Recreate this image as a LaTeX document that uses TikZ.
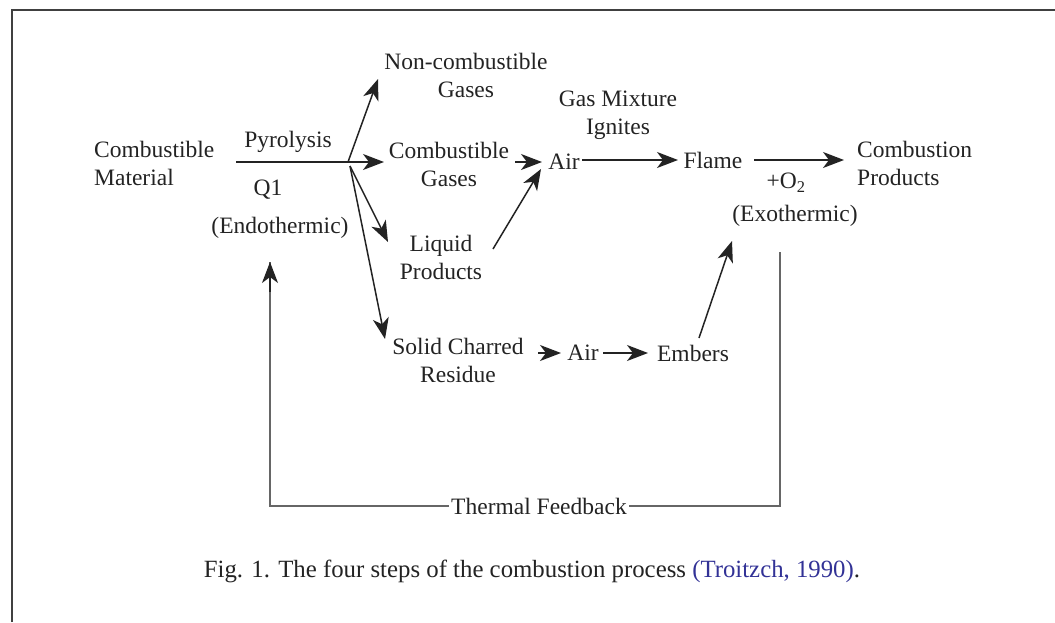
\documentclass[tikz,border=0pt]{standalone}
\usepackage{fontspec}
\setmainfont{Liberation Serif}
\usetikzlibrary{arrows.meta}
\definecolor{citeblue}{RGB}{50,50,150}
\definecolor{ink}{RGB}{35,35,35}
\begin{document}
\begin{tikzpicture}[x=1pt,y=-1pt,
  lbl/.style={font=\fontsize{23.5}{28}\selectfont, align=center, inner sep=1pt, text=ink},
  arr/.style={-{Stealth[length=21pt,width=16pt,inset=6pt]}, line width=1.5pt, draw=ink},
  ln/.style={line width=1.5pt, draw=ink},
  fb/.style={line width=1.2pt, draw=black!60}]
\useasboundingbox (0,0) rectangle (1055,622);
\draw[line width=2pt, black!75] (12,622) -- (12,10) -- (1055,10);

% nodes
\node[lbl, align=left, anchor=west] (cm) at (93,163) {Combustible\\Material};
\node[lbl] (pyro) at (288,142) {Pyrolysis};
\node[lbl] (q1) at (268,190) {Q1};
\node[lbl] (endo) at (280,228) {(Endothermic)};
\node[lbl] (ncg) at (466,75) {Non-combustible\\Gases};
\node[lbl] (cg) at (449,164) {Combustible\\Gases};
\node[lbl] (lp) at (441,257) {Liquid\\Products};
\node[lbl] (scr) at (458,360) {Solid Charred\\Residue};
\node[lbl] (air1) at (564,162) {Air};
\node[lbl] (gmi) at (618,115) {Gas Mixture\\Ignites};
\node[lbl] (flame) at (713,160) {Flame};
\node[lbl, align=left, anchor=west] (cp) at (856,163) {Combustion\\Products};
\node[lbl] (o2) at (786,183) {+O\textsubscript{2}};
\node[lbl] (exo) at (795,216) {(Exothermic)};
\node[lbl] (air2) at (583,353) {Air};
\node[lbl] (emb) at (693,353) {Embers};
\node[lbl, inner sep=2pt] (tf) at (539,506) {Thermal Feedback};
\node[lbl, font=\fontsize{24.8}{30}\selectfont] (cap) at (532,571) {Fig. 1. The four steps of the combustion process \textcolor{citeblue}{(Troitzch, 1990)}.};

% coordinates
\coordinate (ps) at (236,162);
\coordinate (B) at (348,162);
\coordinate (B2) at (350,166);
\coordinate (ncgIn) at (378,79);
\coordinate (cgIn) at (384,162);
\coordinate (lpIn) at (388,242);
\coordinate (scrIn) at (385,339);
\coordinate (cgOut) at (515,162);
\coordinate (air1In) at (542,162);
\coordinate (lpOut) at (493,249);
\coordinate (air1InB) at (541,169);
\coordinate (air1Out) at (582,160);
\coordinate (flameIn) at (678,160);
\coordinate (flameOut) at (754,160);
\coordinate (cpIn) at (844,160);
\coordinate (scrOut) at (538,353);
\coordinate (air2In) at (561,353);
\coordinate (air2Out) at (603,353);
\coordinate (embIn) at (648,353);
\coordinate (embOut) at (699,338);
\coordinate (exoIn) at (732,241);
\coordinate (fbTop) at (780,252);
\coordinate (fbBR) at (780,506);
\coordinate (fbBL) at (270,506);
\coordinate (fbEnd) at (270,262);

% connectors
\draw[ln] (ps) -- (B);
\draw[arr] (B) -- (cgIn);
\draw[arr] (B) -- (ncgIn);
\draw[arr] (B2) -- (lpIn);
\draw[arr] (B2) -- (scrIn);
\draw[arr] (cgOut) -- (air1In);
\draw[arr] (lpOut) -- (air1InB);
\draw[arr] (air1Out) -- (flameIn);
\draw[arr] (flameOut) -- (cpIn);
\draw[arr] (scrOut) -- (air2In);
\draw[arr] (air2Out) -- (embIn);
\draw[arr] (embOut) -- (exoIn);
\draw[fb] (fbTop) -- (fbBR) -- (tf.east);
\draw[fb] (tf.west) -- (fbBL) -- (fbEnd);
\draw[arr, line width=1.2pt] ([yshift=-30pt]fbEnd) -- (fbEnd);
\end{tikzpicture}
\end{document}
